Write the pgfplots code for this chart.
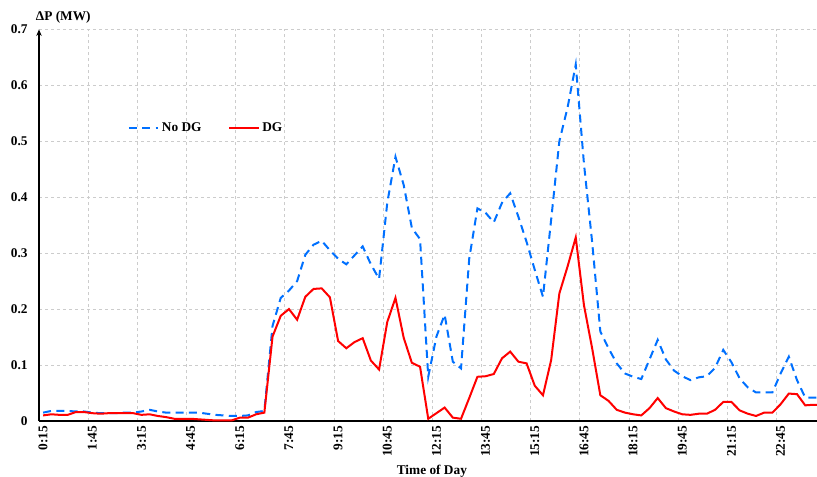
\documentclass[border=0pt]{standalone}
\usepackage{fontspec}
\setmainfont{Liberation Serif}
\usepackage{pgfplots}
\usepackage{pgfplotstable}
\pgfplotsset{compat=1.18}
\usetikzlibrary{arrows.meta}
\definecolor{nodg}{RGB}{0,112,255}
\definecolor{dg}{RGB}{255,0,0}
\pgfplotstableread{
i nodg dg
0 0.015 0.010
1 0.018 0.012
2 0.018 0.011
3 0.018 0.011
4 0.017 0.016
5 0.017 0.016
6 0.015 0.014
7 0.014 0.013
8 0.014 0.014
9 0.014 0.014
10 0.015 0.014
11 0.015 0.014
12 0.017 0.011
13 0.020 0.012
14 0.017 0.009
15 0.015 0.007
16 0.015 0.004
17 0.015 0.004
18 0.015 0.004
19 0.015 0.003
20 0.013 0.002
21 0.011 0.001
22 0.010 0.001
23 0.009 0.001
24 0.009 0.006
25 0.010 0.006
26 0.016 0.012
27 0.018 0.015
28 0.170 0.151
29 0.220 0.188
30 0.233 0.200
31 0.250 0.181
32 0.297 0.222
33 0.315 0.236
34 0.322 0.237
35 0.305 0.221
36 0.290 0.143
37 0.280 0.130
38 0.296 0.141
39 0.312 0.148
40 0.280 0.108
41 0.254 0.092
42 0.390 0.177
43 0.472 0.220
44 0.422 0.149
45 0.345 0.104
46 0.325 0.097
47 0.079 0.004
48 0.151 0.014
49 0.190 0.024
50 0.106 0.006
51 0.094 0.004
52 0.290 0.041
53 0.380 0.079
54 0.372 0.080
55 0.355 0.084
56 0.390 0.112
57 0.407 0.124
58 0.365 0.106
59 0.320 0.103
60 0.270 0.063
61 0.222 0.046
62 0.360 0.109
63 0.500 0.228
64 0.560 0.276
65 0.637 0.328
66 0.460 0.207
67 0.320 0.130
68 0.160 0.046
69 0.130 0.036
70 0.103 0.020
71 0.085 0.015
72 0.079 0.012
73 0.075 0.010
74 0.110 0.023
75 0.145 0.041
76 0.110 0.023
77 0.090 0.017
78 0.080 0.012
79 0.073 0.011
80 0.078 0.013
81 0.080 0.013
82 0.095 0.020
83 0.127 0.034
84 0.105 0.034
85 0.076 0.019
86 0.060 0.013
87 0.051 0.009
88 0.051 0.015
89 0.051 0.015
90 0.085 0.030
91 0.115 0.049
92 0.073 0.048
93 0.042 0.028
94 0.042 0.029
95 0.042 0.029
}\datatable
\begin{document}
\begin{tikzpicture}
\begin{axis}[
  scale only axis, width=583.5pt, height=293.8pt,
  xmin=-0.5, xmax=94.44, ymin=0, ymax=0.7,
  axis x line=bottom, axis y line=left,
  x axis line style={-, line width=0.8pt, black},
  y axis line style={-{Stealth[length=5pt,width=4pt]}, line width=0.8pt, black},
  xtick={0,6,...,90},
  xticklabels={0:15,1:45,3:15,4:45,6:15,7:45,9:15,10:45,12:15,13:45,15:15,16:45,18:15,19:45,21:15,22:45},
  x tick label style={rotate=90, anchor=east, font=\fontsize{10}{12}\selectfont\bfseries},
  minor xtick={5.5,11.5,...,89.5},
  xminorgrids=true, xmajorgrids=false, ymajorgrids=true,
  ytick={0,0.1,0.2,0.3,0.4,0.5,0.6,0.7},
  yticklabels={0,0.1,0.2,0.3,0.4,0.5,0.6,0.7},
  y tick label style={font=\fontsize{10}{12}\selectfont\bfseries, xshift=-5pt},
  major tick length=0pt, minor tick length=0pt,
  grid style={dash pattern=on 2.5pt off 2pt, black!20, line width=0.6pt},
  minor grid style={dash pattern=on 2.5pt off 2pt, black!20, line width=0.6pt},
  xlabel={Time of Day},
  xlabel style={at={(rel axis cs:0.505,0)}, anchor=north, yshift=-33pt, inner sep=0pt, font=\fontsize{10}{12}\selectfont\bfseries},
  ylabel={ΔP (MW)},
  ylabel style={rotate=-90, at={(rel axis cs:0,1)}, anchor=south west, xshift=-2.5pt, yshift=4pt, inner sep=0pt, font=\fontsize{10}{12}\selectfont\bfseries},
  legend style={at={(rel axis cs:0.114,0.749)}, anchor=west, draw=none, fill=none, legend columns=2,
    font=\fontsize{10}{12}\selectfont\bfseries, inner sep=0pt,
    /tikz/every even column/.append style={column sep=18pt}},
  legend image code/.code={\draw[#1] (0pt,0pt) -- (22pt,0pt);},
  clip=true,
]
\addplot[color=nodg, line width=1.5pt, dash pattern=on 6pt off 4pt] table[x=i, y=nodg] {\datatable};
\addlegendentry{No DG}
\addplot[color=dg, line width=1.5pt] table[x=i, y=dg] {\datatable};
\addlegendentry{DG}
\end{axis}
\pgfresetboundingbox
\path (-29.25pt,-41.25pt) rectangle (583.5pt,315.75pt);
\end{tikzpicture}
\end{document}
